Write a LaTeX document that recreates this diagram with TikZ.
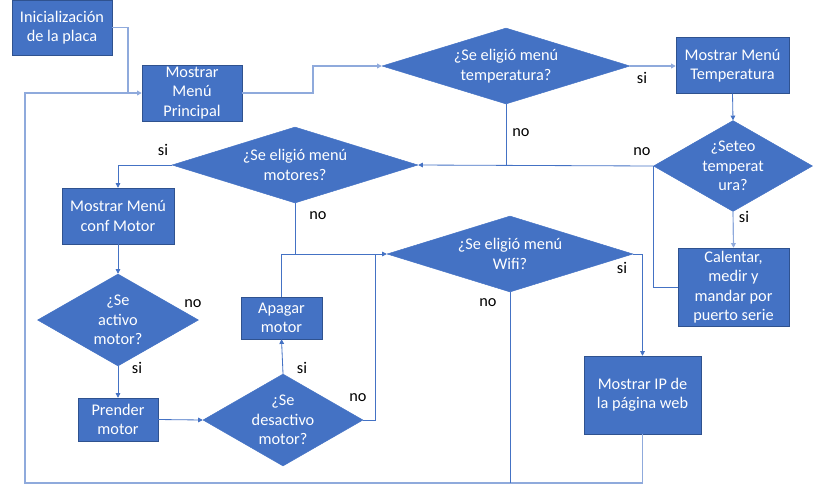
\documentclass[tikz,border=0pt]{standalone}
\usepackage{fontspec}
\setmainfont{Carlito}
\usetikzlibrary{shapes.geometric,arrows.meta}
\definecolor{boxblue}{HTML}{4472C4}
\definecolor{boxedge}{HTML}{2F528F}
\definecolor{softblue}{HTML}{8FAADC}
\tikzset{
  box/.style={draw=boxedge,fill=boxblue,text=white,align=center,inner sep=1pt,
    font=\fontsize{13.9pt}{16.6pt}\selectfont},
  decision/.style={diamond,draw=boxblue,fill=boxblue,text=white,align=center,inner sep=0pt,
    font=\fontsize{13.9pt}{16.6pt}\selectfont},
  link/.style={draw=boxblue,line width=0.7pt},
  softlink/.style={draw=softblue,line width=1pt},
  tip/.style={-{Triangle[length=4pt,width=4pt]}},
  tag/.style={font=\fontsize{13.9pt}{16.6pt}\selectfont,text=black}
}
\begin{document}
\begin{tikzpicture}[x=0.03cm,y=-0.03cm]
  \useasboundingbox (0,0) rectangle (823,490);
  % boxes
  \node[box,minimum width=3cm,minimum height=1.65cm] (init) at (62,27.5) {Inicialización\\de la placa};
  \node[box,minimum width=3cm,minimum height=1.68cm] (princ) at (192,93) {Mostrar\\Menú\\Principal};
  \node[box,minimum width=3.39cm,minimum height=1.68cm] (mtemp) at (732.5,65.5) {Mostrar Menú\\Temperatura};
  \node[box,minimum width=3.33cm,minimum height=2.34cm] (calentar) at (733.5,287) {Calentar,\\medir y\\mandar por\\puerto serie};
  \node[box,minimum width=3.36cm,minimum height=1.68cm] (confm) at (118,216) {Mostrar Menú\\conf Motor};
  \node[box,minimum width=2.4cm,minimum height=1.29cm] (prender) at (118,419.5) {Prender\\motor};
  \node[box,minimum width=2.43cm,minimum height=1.26cm] (apagar) at (281.5,318) {Apagar\\motor};
  \node[box,minimum width=3.51cm,minimum height=2.34cm] (mip) at (642.5,395) {Mostrar IP de\\la página web};
  % decisions
  \node[decision,minimum width=7.44cm,minimum height=2.28cm,aspect=3.26] (temp) at (506,66) {¿Se eligió menú\\temperatura?};
  \node[decision,minimum width=4.77cm,minimum height=2.73cm,aspect=1.73] (setemp) at (733,166) {¿Seteo\\temperat\\ura?};
  \node[decision,minimum width=7.38cm,minimum height=2.28cm,aspect=3.24] (motores) at (295,165) {¿Se eligió menú\\motores?};
  \node[decision,minimum width=4.83cm,minimum height=2.76cm,aspect=1.75] (activo) at (118,320) {¿Se\\activo\\motor?};
  \node[decision,minimum width=4.8cm,minimum height=2.76cm,aspect=1.74] (desact) at (283,420) {¿Se\\desactivo\\motor?};
  \node[decision,minimum width=7.38cm,minimum height=2.28cm,aspect=3.24] (wifi) at (510,254) {¿Se eligió menú\\Wifi?};
  % bends
  \coordinate (j1) at (128,93);
  \coordinate (j2) at (313,66);
  \coordinate (j3) at (375,254);
  \coordinate (bl) at (25,483);
  % connectors
  \draw[softlink,tip] (init.east) -| (j1) -- (princ.west);
  \draw[softlink] (mip.south) |- (bl) |- (j1);
  \draw[link] (wifi.south) -- (wifi.south |- bl);
  \draw[softlink,tip] (princ.east) -| (j2) -- (temp.west);
  \draw[softlink,tip] (temp.east) -- (temp.east -| mtemp.west);
  \draw[link] (temp.south) -- (temp.south |- motores.east);
  \draw[link,tip] (mtemp.south) -- (setemp.north);
  \draw[link,tip] (setemp.west) -- (motores.east);
  \draw[softlink,tip] (setemp.south) -- (calentar.north);
  \draw[link] (calentar.west) -| (setemp.west);
  \draw[link,tip] (motores.west) -| (confm.north);
  \draw[link,tip] (motores.south) |- (wifi.west);
  \draw[link] (apagar.north) |- (motores.south |- wifi.west);
  \draw[link] (desact.east) -| (j3);
  \draw[link,tip] (confm.south) -- (activo.north);
  \draw[link,tip] (activo.south) -- (prender.north);
  \draw[link,tip] (prender.east) -- (desact.west);
  \draw[link,tip] (desact.north) -- (apagar.south);
  \draw[link,tip] (wifi.east) -| (mip.north);
  % labels
  \node[tag] (si1) at (642,78) {si};
  \node[tag] (no1) at (521,133) {no};
  \node[tag] (no2) at (642,152) {no};
  \node[tag] (si2) at (744,217) {si};
  \node[tag] (si3) at (163,150) {si};
  \node[tag] (no3) at (318,216) {no};
  \node[tag] (no4) at (193,304) {no};
  \node[tag] (si4) at (137,368) {si};
  \node[tag] (si5) at (302,368) {si};
  \node[tag] (no5) at (358,398) {no};
  \node[tag] (si6) at (622,268) {si};
  \node[tag] (no6) at (488,303) {no};
\end{tikzpicture}
\end{document}
